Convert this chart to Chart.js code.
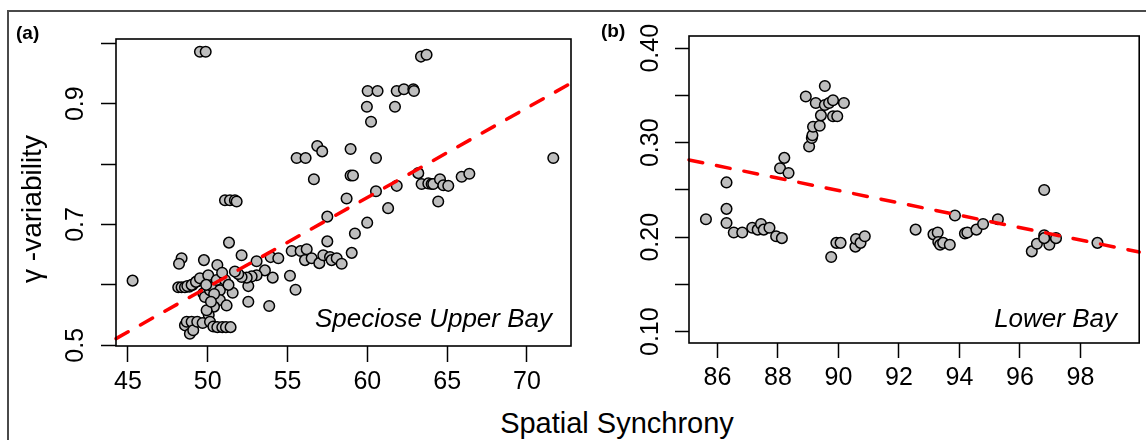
<!DOCTYPE html>
<html><head><meta charset="utf-8">
<script src="https://cdn.jsdelivr.net/npm/chart.js@4.4.1/dist/chart.umd.min.js"></script>
<style>
html,body{margin:0;padding:0;background:#fff;}
body{width:1146px;height:440px;position:relative;overflow:hidden;font-family:"Liberation Sans",Arial,sans-serif;}
.t{position:absolute;white-space:nowrap;color:#000;font-family:"Liberation Sans",Arial,sans-serif;}
canvas{position:absolute;top:0;}
</style></head><body>
<div style="position:absolute;left:7px;top:10px;width:1300px;height:600px;border:2px solid #4a4a4a;"></div>
<canvas id="ca" width="580" height="400" style="left:0"></canvas>
<canvas id="cb" width="566" height="400" style="left:580px"></canvas>
<div class="t" style="left:16px;top:23px;font-weight:bold;font-size:19px;line-height:19px;">(a)</div>
<div class="t" style="left:601px;top:21px;font-weight:bold;font-size:19px;line-height:19px;">(b)</div>
<div class="t" style="right:594px;top:305px;font-style:italic;font-size:26px;line-height:26px;text-align:right;">Speciose Upper Bay</div>
<div class="t" style="right:29px;top:305px;font-style:italic;font-size:26px;line-height:26px;text-align:right;">Lower Bay</div>
<div class="t" style="left:417px;width:400px;top:409px;font-size:29px;line-height:29px;text-align:center;">Spatial Synchrony</div>
<div class="t" style="left:-118px;width:300px;top:195px;height:28px;font-size:28px;line-height:28px;text-align:center;transform:rotate(-90deg);">γ -variability</div>
<script>
// ---- Panel (a): Speciose Upper Bay ----
const xA = [49.51,49.87,63.36,63.71,
  60.02,60.64,61.84,62.29,62.88,62.92,
  59.97,61.73,60.23,
  56.86,57.17,58.95,
  55.57,56.13,60.54,71.65,
  56.65,58.95,59.1,
  63.19,65.91,66.39,
  61.84,60.54,58.7,
  63.4,63.82,64.03,64.13,64.55,64.76,65.07,
  64.44,61.3,
  51.08,51.39,51.7,51.81,
  57.49,59.99,59.22,57.49,59.02,
  51.33,52.12,
  48.36,48.2,49.76,50.6,
  45.29,
  53.06,53.94,54.42,
  55.26,55.82,56.2,56.09,56.51,56.99,57.24,57.66,57.76,58.08,58.39,
  55.15,55.5,53.85,52.54,52.54,54.07,53.58,
  53.06,52.75,52.44,52.12,51.91,51.7,
  48.15,48.36,48.57,48.84,49.05,49.34,49.55,
  48.72,48.99,49.26,49.51,49.72,49.82,50.03,50.14,50.31,50.56,50.76,51.08,50.76,50.39,51.18,51.56,50.06,49.93,
  48.57,48.68,48.88,48.99,49.09,49.34,49.68,50.14,50.35,50.6,50.91,51.14,51.43,
  50.9,51.3,50.4,49.9,50.2];
const yA = [0.986,0.986,0.978,0.981,
  0.921,0.921,0.921,0.924,0.924,0.921,
  0.895,0.895,0.870,
  0.830,0.821,0.825,
  0.810,0.810,0.810,0.810,
  0.775,0.781,0.781,
  0.785,0.779,0.784,
  0.764,0.755,0.743,
  0.767,0.768,0.767,0.767,0.775,0.765,0.764,
  0.738,0.727,
  0.740,0.740,0.740,0.738,
  0.713,0.703,0.685,0.672,0.653,
  0.670,0.649,
  0.644,0.635,0.641,0.633,
  0.607,
  0.639,0.646,0.644,
  0.656,0.656,0.659,0.641,0.644,0.636,0.649,0.646,0.641,0.644,0.635,
  0.615,0.592,0.565,0.572,0.598,0.612,0.624,
  0.616,0.614,0.612,0.613,0.618,0.622,
  0.596,0.596,0.596,0.597,0.600,0.606,0.608,
  0.598,0.600,0.605,0.611,0.586,0.580,0.616,0.591,0.597,0.608,0.591,0.608,0.575,0.564,0.566,0.587,0.550,0.558,
  0.533,0.539,0.519,0.539,0.525,0.539,0.537,0.539,0.531,0.530,0.530,0.530,0.530,
  0.620,0.600,0.585,0.600,0.572];
const fitXA = [44.25, 72.76];
const fitYA = [0.511, 0.934];
const xRangeA = [44.25, 72.76];
const yRangeA = [0.4988, 1.0071];
const xTicksA = [45, 50, 55, 60, 65, 70];
const yTicksA = [0.5, 0.6, 0.7, 0.8, 0.9, 1.0];
const yLabelsA = ['0.5', '', '0.7', '', '0.9', ''];

// ---- Panel (b): Lower Bay ----
const xB = [85.62, 86.3,86.3,86.3, 86.54,86.82, 87.15,87.33,87.44,87.53,87.72, 87.94,88.13,
  88.07,88.21,88.35, 88.92,
  89.03,89.12,89.14,89.16,89.25,89.38,89.42,89.55,89.55,89.69,89.82,89.82,89.96,90.18,
  89.76,89.93,90.07, 90.56,90.58,90.73,90.87, 92.55,
  93.14,93.28,93.30,93.36,93.46,93.68, 93.85, 94.18,94.26,94.56,94.78, 95.27, 96.8,
  96.39,96.56,96.8,96.97,97.19,96.8, 98.56];
const yB = [0.219, 0.258,0.230,0.215, 0.205,0.205, 0.210,0.208,0.214,0.208,0.210, 0.201,0.199,
  0.273,0.284,0.268, 0.349,
  0.296,0.305,0.308,0.317,0.342,0.318,0.329,0.340,0.360,0.342,0.345,0.328,0.328,0.342,
  0.179,0.194,0.194, 0.190,0.198,0.194,0.201, 0.208,
  0.203,0.205,0.195,0.192,0.194,0.192, 0.223, 0.204,0.205,0.208,0.214, 0.219, 0.250,
  0.185,0.193,0.202,0.192,0.199,0.199, 0.194];
const fitXB = [85.06, 99.94];
const fitYB = [0.2818, 0.1843];
const xRangeB = [85.06, 99.94];
const yRangeB = [0.088, 0.413];
const xTicksB = [86, 88, 90, 92, 94, 96, 98];
const yTicksB = [0.10, 0.15, 0.20, 0.25, 0.30, 0.35, 0.40];
const yLabelsB = ['0.10', '', '0.20', '', '0.30', '', '0.40'];

const FONT = "'Liberation Sans', Arial, sans-serif";
function zip(xs, ys) { return xs.map((x, i) => ({x: x, y: ys[i]})); }

const boxPlugin = {
  id: 'box',
  afterDraw(chart) {
    const ctx = chart.ctx, a = chart.chartArea;
    ctx.save();
    ctx.strokeStyle = '#000';
    ctx.lineWidth = 1.6;
    ctx.strokeRect(a.left, a.top, a.right - a.left, a.bottom - a.top);
    ctx.restore();
  }
};

function makeChart(id, xs, ys, fx, fy, xr, yr, xt, yt, yl, g) {
  return new Chart(document.getElementById(id), {
    type: 'scatter',
    data: {
      datasets: [
        { data: zip(fx, fy), showLine: true, borderColor: '#FF0000', borderWidth: 3.5,
          borderDash: [14, 14], borderCapStyle: 'round', pointRadius: 0, fill: false, order: 0, clip: false },
        { data: zip(xs, ys), showLine: false, pointRadius: 5.3, pointBackgroundColor: '#BEBEBE',
          pointBorderColor: '#000', pointBorderWidth: 1.5, order: 1, clip: false }
      ]
    },
    options: {
      responsive: false, animation: false, devicePixelRatio: 1,
      layout: { padding: { top: g.top, right: g.right, left: 0, bottom: 0 } },
      plugins: { legend: { display: false }, tooltip: { enabled: false } },
      scales: {
        x: {
          type: 'linear', min: xr[0], max: xr[1],
          afterBuildTicks: s => { s.ticks = xt.map(v => ({ value: v })); },
          afterFit: s => { s.height = g.xh; },
          border: { display: false },
          grid: { drawOnChartArea: false, drawTicks: true, tickLength: g.xtl, tickWidth: 1.5, tickColor: '#000' },
          ticks: { font: { family: FONT, size: 25, lineHeight: 1.2 }, color: '#000', padding: g.xpad,
                   minRotation: 0, maxRotation: 0, autoSkip: false, callback: v => String(v) }
        },
        y: {
          type: 'linear', min: yr[0], max: yr[1],
          afterBuildTicks: s => { s.ticks = yt.map(v => ({ value: v })); },
          afterFit: s => { s.width = g.yw; },
          border: { display: false },
          grid: { drawOnChartArea: false, drawTicks: true, tickLength: g.ytl, tickWidth: 1.5, tickColor: '#000' },
          ticks: { font: { family: FONT, size: 25, lineHeight: 1.2 }, color: '#000', padding: g.ypad,
                   minRotation: 90, maxRotation: 90, crossAlign: 'center', autoSkip: false,
                   callback: (v, i) => yl[i] }
        }
      }
    },
    plugins: [boxPlugin]
  });
}

makeChart('ca', xA, yA, fitXA, fitYA, xRangeA, yRangeA, xTicksA, yTicksA, yLabelsA,
  { top: 39, right: 9, xh: 54, xtl: 16, xpad: 5, yw: 116, ytl: 15, ypad: 8 });
makeChart('cb', xB, yB, fitXB, fitYB, xRangeB, yRangeB, xTicksB, yTicksB, yLabelsB,
  { top: 36, right: 4, xh: 57, xtl: 15, xpad: 5, yw: 109, ytl: 14, ypad: 0 });
</script>
</body></html>
